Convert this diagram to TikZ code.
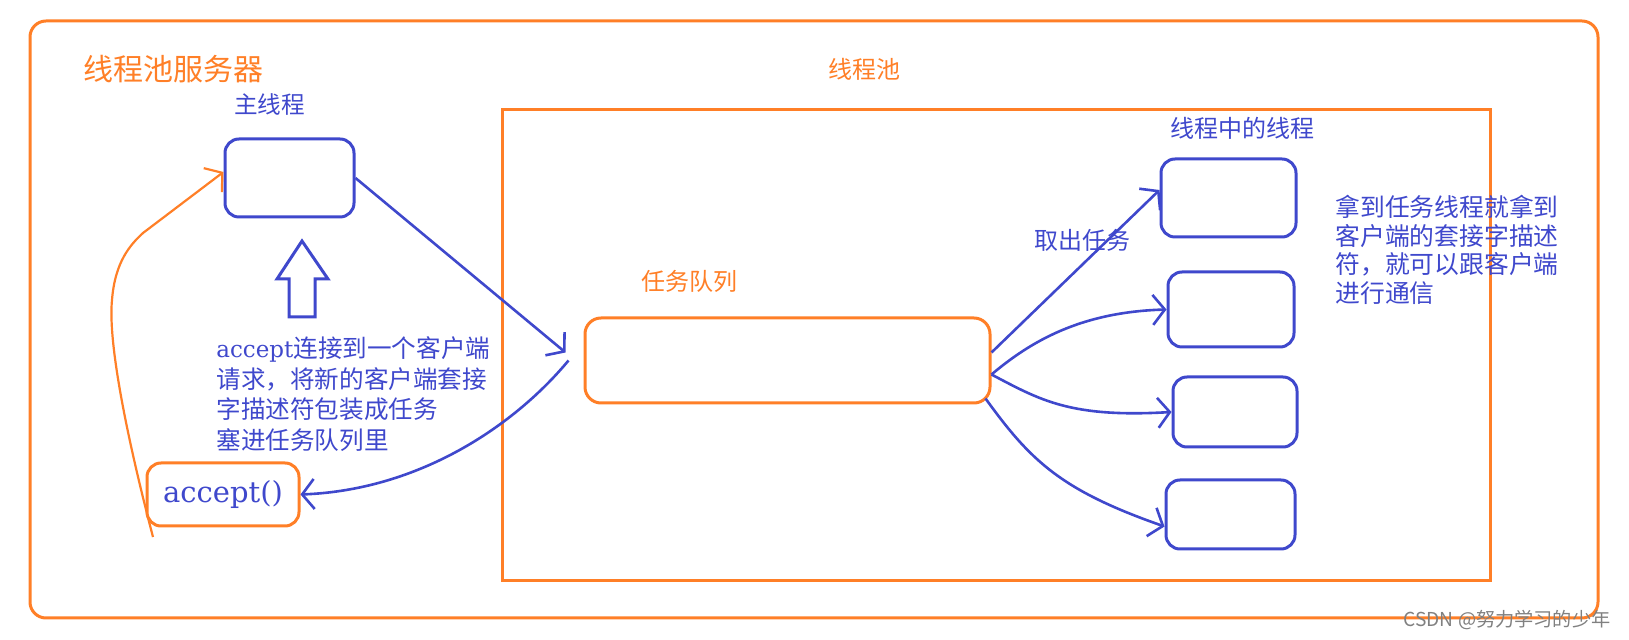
\documentclass[tikz,border=0pt]{standalone}
\usepackage{fontspec}
\setmainfont{Noto Sans CJK SC}
\newfontfamily\cjk{Noto Sans CJK SC}
\newfontfamily\lat{DejaVu Serif}
\usetikzlibrary{arrows.meta}
\definecolor{org}{HTML}{FF7F27}
\definecolor{blu}{HTML}{3F48CC}
\begin{document}
\begin{tikzpicture}[x=0.5pt,y=-0.5pt,
  box/.style={draw, rounded corners=7pt, line width=1.5pt, inner sep=0pt},
  bbox/.style={box, draw=blu},
  obox/.style={box, draw=org},
  lbl/.style={inner sep=0pt, font=\cjk\fontsize{12}{14}\selectfont},
  blbl/.style={lbl, text=blu},
  olbl/.style={lbl, text=org},
  barb/.style={-{Straight Barb[length=6pt,width=15pt]}},
  conn/.style={draw=blu, line width=1.3pt, barb},
  oconn/.style={draw=org, line width=1.1pt, barb}
]
\useasboundingbox (0,0) rectangle (1629,640);
% frames
\draw[org, line width=1.5pt, rounded corners=8pt] (30,21) rectangle (1598,618);
\draw[org, line width=1.5pt] (502,110) rectangle (1490,581);
% labels
\node[olbl, anchor=west, font=\cjk\fontsize{15}{17}\selectfont] (title) at (83,69) {线程池服务器};
\node[olbl] (pool) at (864,69) {线程池};
\node[blbl, font=\cjk\fontsize{11.8}{14}\selectfont] (mainlbl) at (269.5,104) {主线程};
\node[olbl] (qlbl) at (689,281) {任务队列};
\node[blbl] (tlbl) at (1242,128) {线程中的线程};
\node[blbl] (take) at (1082,240) {取出任务};
% boxes
\node[bbox, minimum width=64.5pt, minimum height=39pt] (main) at (289.5,178) {};
\node[obox, minimum width=76pt, minimum height=31.5pt, text=blu, font=\lat\fontsize{14.5}{16}\selectfont] (acc) at (223,494.5) {accept()};
\node[obox, rounded corners=8pt, minimum width=202.5pt, minimum height=42.5pt] (q) at (787.5,360.5) {};
\node[bbox, minimum width=67.5pt, minimum height=39pt] (t1) at (1228.5,198) {};
\node[bbox, minimum width=63pt, minimum height=37.5pt] (t2) at (1231,309.5) {};
\node[bbox, minimum width=62pt, minimum height=35pt] (t3) at (1235,412) {};
\node[bbox, minimum width=64.5pt, minimum height=34.5pt] (t4) at (1230.5,514.5) {};
% hollow arrow
\draw[blu, line width=1.5pt, line join=miter] (289,317) -- (289,279) -- (277,279) -- (302,241) -- (328,279) -- (315,279) -- (315,317) -- cycle;
% text blocks
\node[blbl, anchor=west, align=left, font=\cjk\fontsize{12.3}{15.35}\selectfont] (desc) at (216,394)
  {{\lat\fontsize{11.5}{15.35}\selectfont accept}连接到一个客户端\\请求，将新的客户端套接\\字描述符包装成任务\\塞进任务队列里};
\node[blbl, anchor=west, align=left, font=\cjk\fontsize{12.4}{14.35}\selectfont] (note) at (1335,250)
  {拿到任务线程就拿到\\客户端的套接字描述\\符，就可以跟客户端\\进行通信};
% connectors
\coordinate (loopstart) at (153,537);
\draw[oconn] (loopstart) .. controls (125,430) and (108,340) .. (112,300) .. controls (115,262) and (130,245) .. (143,233) -- ([yshift=3pt]main.west);
\draw[conn] (main.east) -- ([xshift=-9pt,yshift=4pt]q.west);
\draw[conn] ([xshift=-7.5pt]q.west) .. controls (515,425) and (420,490) .. (acc.east);
\draw[conn] ([yshift=4pt]q.east) -- ([yshift=4pt]t1.west);
\draw[conn] ([yshift=-7pt]q.east) .. controls (1030,342) and (1080,312) .. (t2.west);
\draw[conn] ([yshift=-7pt]q.east) .. controls (1040,400) and (1070,418) .. (t3.west);
\draw[conn] ([xshift=-3pt,yshift=-19pt]q.east) .. controls (1030,460) and (1060,490) .. ([yshift=-6pt]t4.west);
% watermark
\node[inner sep=0pt, text=black!50, font=\cjk\fontsize{9.6}{11}\selectfont] (wm) at (1507,620) {CSDN @努力学习的少年};
\end{tikzpicture}
\end{document}
